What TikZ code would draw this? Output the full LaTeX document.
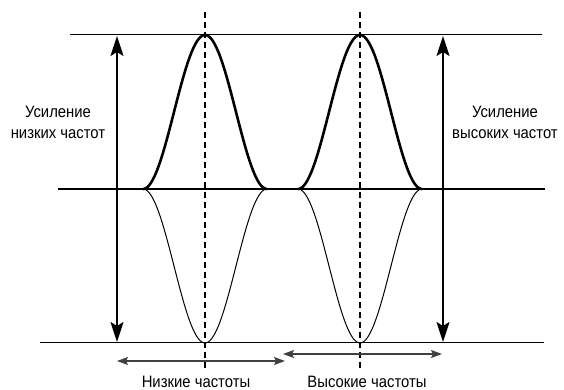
\documentclass[tikz,border=0pt]{standalone}
\usepackage{fontspec}
\setmainfont{Liberation Sans}[FakeStretch=0.9]
\usetikzlibrary{arrows.meta}
\begin{document}
\begin{tikzpicture}[x=1pt,y=1pt,
  lbl/.style={inner sep=0pt,align=center,font=\fontsize{16.5}{21}\selectfont},
  thinline/.style={line width=1pt},
  axisline/.style={line width=2.8pt},
  bump/.style={line width=2.6pt,line join=round},
  dip/.style={line width=1pt},
  guide/.style={line width=1.3pt,dash pattern=on 6pt off 4pt},
  bigarrow/.style={line width=1.8pt,{Stealth[length=20pt,width=13pt,inset=4pt]}-{Stealth[length=20pt,width=13pt,inset=4pt]}},
  bandarrow/.style={line width=1.2pt,draw=black!75,{Stealth[length=11pt,width=8pt,inset=2pt]}-{Stealth[length=11pt,width=8pt,inset=2pt]}}]
\useasboundingbox (0,0) rectangle (564,390);
% reference lines
\coordinate (topL) at (70,355);
\coordinate (topR) at (542,355);
\coordinate (axL) at (58,201);
\coordinate (axR) at (545,201);
\coordinate (botL) at (40,47);
\coordinate (botR) at (544,47);
\draw[thinline] (topL) -- (topR);
\draw[thinline] (botL) -- (botR);
% dashed centre lines
\coordinate (d1t) at (205,378);
\coordinate (d1b) at (205,20);
\coordinate (d2t) at (360,378);
\coordinate (d2b) at (360,20);
\draw[guide] (d1t) -- (d1b);
\draw[guide] (d2t) -- (d2b);
% dips (thin, below the axis)
\draw[dip] plot[domain=-62:62,samples=80,smooth] ({205+\x},{201-77*(1+cos(180*\x/62))});
\draw[dip] plot[domain=-62:62,samples=80,smooth] ({360+\x},{201-77*(1+cos(180*\x/62))});
% axis
\draw[axisline] (axL) -- (axR);
% bumps (thick, above the axis)
\draw[bump] plot[domain=-62:62,samples=80,smooth] ({205+\x},{201+77*(1+cos(180*\x/62))});
\draw[bump] plot[domain=-62:62,samples=80,smooth] ({360+\x},{201+77*(1+cos(180*\x/62))});
% gain arrows
\coordinate (lat) at (117,354);
\coordinate (lab) at (117,48);
\coordinate (rat) at (443,354);
\coordinate (rab) at (443,48);
\draw[bigarrow] (lab) -- (lat);
\draw[bigarrow] (rab) -- (rat);
% band arrows
\coordinate (lowL) at (117,29);
\coordinate (lowR) at (285,29);
\coordinate (highL) at (283,36);
\coordinate (highR) at (442,36);
\draw[bandarrow] (lowL) -- (lowR);
\draw[bandarrow] (highL) -- (highR);
% labels
\node[lbl] (lowgain) at (58,268) {Усиление\\низких частот};
\node[lbl] (highgain) at (505,268) {Усиление\\высоких частот};
\node[lbl,anchor=base] (lowband) at (196,2.5) {Низкие частоты};
\node[lbl,anchor=base] (highband) at (367,2.5) {Высокие частоты};
\end{tikzpicture}
\end{document}
